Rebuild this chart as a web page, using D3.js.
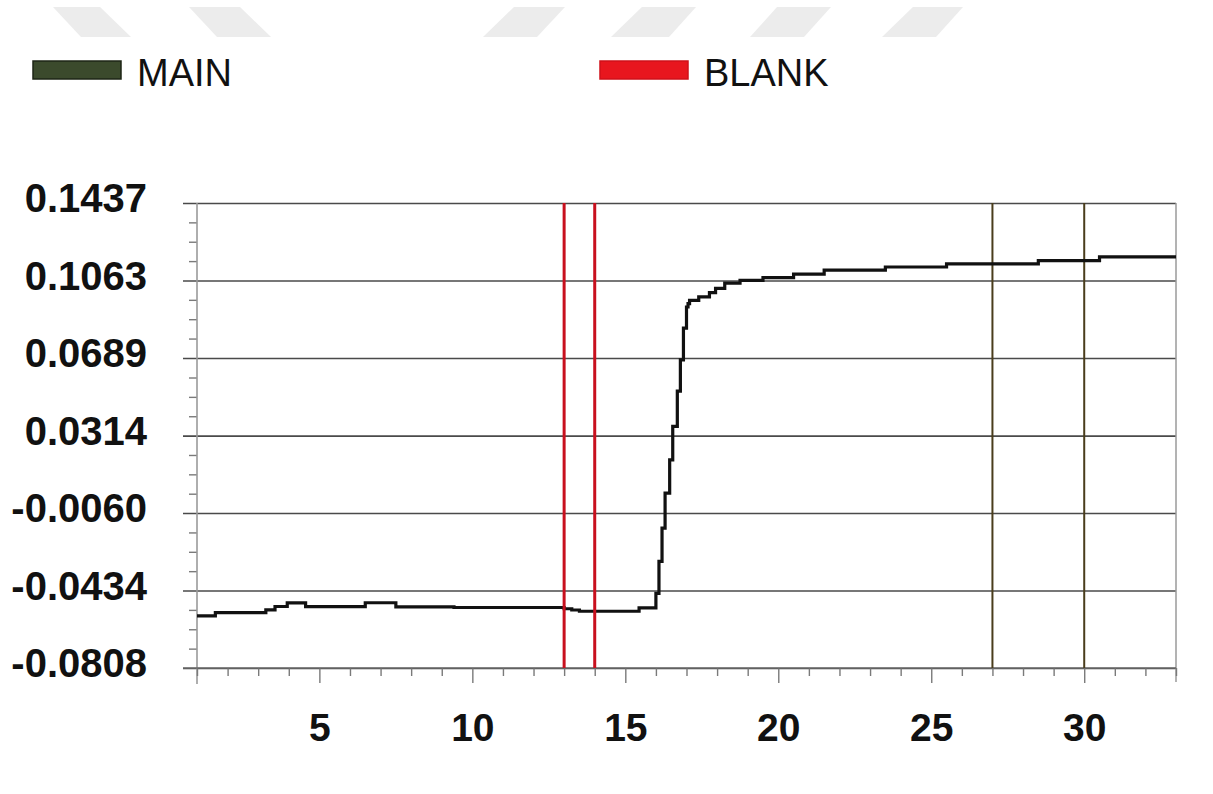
<!DOCTYPE html>
<html>
<head>
<meta charset="utf-8">
<script src="https://cdn.jsdelivr.net/npm/d3@7/dist/d3.min.js"></script>
<style>
  html, body { margin: 0; padding: 0; background: #ffffff; }
  svg { display: block; }
  text { font-family: "Liberation Sans", Arial, sans-serif; fill: #111; }
</style>
</head>
<body>
<svg id="chart" width="1213" height="794"></svg>
<script>
// ---- data ----
const seriesNames = ["MAIN", "BLANK"];
const seriesColors = ["#3b4a2c", "#e8161e"];

// MAIN trace: step values (x = position where each level starts)
const mainX = [1, 1.6, 3.25, 3.55, 3.95, 4.55, 6.5, 7.5, 9.4, 13.0, 13.25, 13.5, 15.45,
  16.0, 16.1, 16.2, 16.3, 16.45, 16.55, 16.7, 16.8, 16.9, 17.0, 17.05, 17.1, 17.4, 17.75,
  17.95, 18.25, 18.75, 19.5, 20.5, 21.5, 23.5, 25.5, 28.5, 30.5, 33];
const mainY = [-0.0556, -0.0541, -0.0527, -0.0511, -0.0494, -0.0512, -0.0493, -0.0513, -0.0516,
  -0.0522, -0.0528, -0.0534, -0.0518,
  -0.0448, -0.0293, -0.0133, 0.0036, 0.0197, 0.0359, 0.0529, 0.0680, 0.0833, 0.0935, 0.0951,
  0.0967, 0.0984, 0.1004, 0.1025, 0.1050, 0.1063, 0.1077, 0.1094, 0.1113, 0.1128, 0.1143,
  0.1159, 0.1177, 0.1177];

// BLANK markers and the two dark region markers
const blankMarks = [13, 14];
const regionMarks = [27, 30];

// axes
const xDomain = [1, 33];
const xTickLabels = [5, 10, 15, 20, 25, 30];
const yTickValues = [-0.0808, -0.0434, -0.0060, 0.0314, 0.0689, 0.1063, 0.1437];

// ---- drawing ----
(function draw() {
  const svg = d3.select("#chart");

  // light header stripes
  const stripeG = svg.append("g").attr("fill", "#ececec");
  [[53, 100, 81, 131], [189, 240, 217, 271], [514, 565, 483, 537],
   [642, 696, 611, 669], [777, 831, 750, 804], [913, 963, 882, 936]].forEach(s => {
    stripeG.append("polygon")
      .attr("points", `${s[0]},7 ${s[1]},7 ${s[3]},37 ${s[2]},37`);
  });

  const pLeft = 197, pRight = 1176, pTop = 203, pBottom = 668;
  const x = d3.scaleLinear().domain(xDomain).range([pLeft, pRight]);
  const y = d3.scaleLinear()
    .domain([yTickValues[0], yTickValues[yTickValues.length - 1]])
    .range([pBottom, pTop]);

  // horizontal grid lines
  const grid = svg.append("g")
    .attr("transform", `translate(183,0)`)
    .call(d3.axisLeft(y).tickValues(yTickValues).tickSize(-(pRight - 183)).tickFormat(""));
  grid.select(".domain").remove();
  grid.selectAll(".tick line").attr("stroke", "#4a4a4a").attr("stroke-width", 1.6);

  // right border
  svg.append("line")
    .attr("x1", pRight).attr("x2", pRight).attr("y1", pTop).attr("y2", pBottom + 14)
    .attr("stroke", "#9a9a9a").attr("stroke-width", 1.5);

  // y axis line with minor ticks
  const step = (yTickValues[1] - yTickValues[0]) / 4;
  const yMinor = [];
  for (let i = 0; i < yTickValues.length - 1; i++) {
    for (let k = 1; k < 4; k++) yMinor.push(yTickValues[i] + k * step);
  }
  const yAxisG = svg.append("g")
    .attr("transform", `translate(${pLeft},0)`)
    .call(d3.axisLeft(y).tickValues(yMinor).tickSize(8).tickFormat(""));
  yAxisG.select(".domain").remove();
  yAxisG.selectAll(".tick line").attr("stroke", "#7a7a7a").attr("stroke-width", 1.4);
  svg.append("line")
    .attr("x1", pLeft).attr("x2", pLeft).attr("y1", pTop).attr("y2", pBottom + 16)
    .attr("stroke", "#9a9a9a").attr("stroke-width", 1.6);

  // y labels (plain hyphen for negatives)
  const yFmt = d => d.toFixed(4);
  const yLab = svg.append("g")
    .attr("transform", `translate(147,0)`)
    .call(d3.axisLeft(y).tickValues(yTickValues).tickSize(0).tickPadding(0).tickFormat(yFmt));
  yLab.select(".domain").remove();
  yLab.selectAll("text")
    .attr("font-family", "'Liberation Sans', Arial, sans-serif")
    .attr("font-size", 40).attr("font-weight", "bold").attr("fill", "#111")
    .attr("dy", "0.22em");

  // x axis ticks
  const xAxisG = svg.append("g")
    .attr("transform", `translate(0,${pBottom})`)
    .call(d3.axisBottom(x).tickValues(d3.range(xDomain[0], xDomain[1] + 1)).tickFormat(""));
  xAxisG.select(".domain").remove();
  xAxisG.selectAll(".tick line")
    .attr("y2", d => (d % 5 === 0 ? 15 : 8))
    .attr("stroke", "#7a7a7a").attr("stroke-width", 1.4);
  svg.append("line")
    .attr("x1", 183).attr("x2", pRight).attr("y1", pBottom).attr("y2", pBottom)
    .attr("stroke", "#6a6a6a").attr("stroke-width", 1.6);

  // x labels
  const xLab = svg.append("g")
    .attr("transform", `translate(0,${pBottom})`)
    .call(d3.axisBottom(x).tickValues(xTickLabels).tickSize(0).tickPadding(45).tickFormat(d3.format("d")));
  xLab.select(".domain").remove();
  xLab.selectAll("text")
    .attr("font-family", "'Liberation Sans', Arial, sans-serif")
    .attr("font-size", 39).attr("font-weight", "bold").attr("fill", "#111");

  // dark region markers
  svg.append("g").selectAll("line").data(regionMarks).join("line")
    .attr("x1", d => x(d)).attr("x2", d => x(d))
    .attr("y1", pTop).attr("y2", pBottom)
    .attr("stroke", "#4a3d1c").attr("stroke-width", 2);

  // MAIN trace
  const pts = mainX.map((v, i) => [v, mainY[i]]);
  svg.append("path")
    .datum(pts)
    .attr("fill", "none")
    .attr("stroke", "#111")
    .attr("stroke-width", 3.2)
    .attr("stroke-linejoin", "miter")
    .attr("d", d3.line().x(d => x(d[0])).y(d => y(d[1])).curve(d3.curveStepAfter));

  // BLANK markers
  svg.append("g").selectAll("line").data(blankMarks).join("line")
    .attr("x1", d => x(d)).attr("x2", d => x(d))
    .attr("y1", pTop).attr("y2", pBottom)
    .attr("stroke", "#c8101e").attr("stroke-width", 3);

  // legend
  const legendPos = [[33, 61], [600, 61]];
  const legend = svg.append("g");
  seriesNames.forEach((name, i) => {
    const [lx, ly] = legendPos[i];
    legend.append("rect")
      .attr("x", lx).attr("y", ly).attr("width", 88).attr("height", 18)
      .attr("fill", seriesColors[i])
      .attr("stroke", i === 0 ? "#1e2616" : "#d0101a").attr("stroke-width", 1.5);
    legend.append("text")
      .attr("x", lx + 104).attr("y", ly + 25)
      .attr("font-size", 38).attr("fill", "#111")
      .text(name);
  });
})();
</script>
</body>
</html>
